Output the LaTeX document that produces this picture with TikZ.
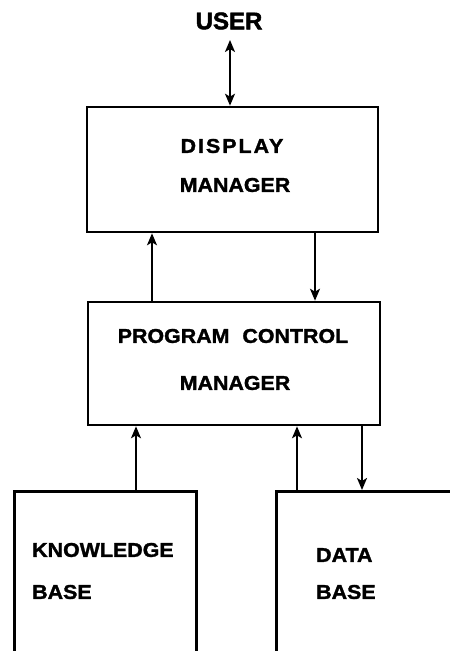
\documentclass[tikz,border=0pt]{standalone}
\usepackage{fontspec}
\setmainfont{Liberation Sans}[BoldFont={Liberation Sans Bold}]
\newfontfamily\boxfont{Liberation Sans Bold}[FakeStretch=1.07, FakeBold=1.5]
\newfontfamily\widefont{Liberation Sans Bold}[FakeStretch=1.07, FakeBold=1.5, LetterSpace=10]
\newfontfamily\userfont{Liberation Sans Bold}[FakeBold=2]
\usetikzlibrary{arrows.meta}
\tikzset{
  block/.style={draw, line width=2.6pt, minimum width=#1, inner sep=0pt},
  lbl/.style={inner sep=0pt, font=\boxfont\fontsize{20}{20}\selectfont},
  tip/.tip={Stealth[length=12pt,width=10pt,inset=3pt]},
  arr/.style={line width=1.8pt, -tip},
  biarr/.style={line width=1.8pt, tip-tip}
}
\begin{document}
\begin{tikzpicture}[x=1pt,y=-1pt]
\useasboundingbox (0,0) rectangle (450,651);
\clip (0,0) rectangle (450,651);
% top-level boxes
\node[block=291pt, minimum height=125pt] (dm) at (232.5,169.5) {};
\node[block=292pt, minimum height=123pt] (pcm) at (234,363.5) {};
% lower boxes run past the lower edge
\node[block=182pt, minimum height=190pt, anchor=north west] (kb) at (13,490) {};
\node[block=205pt, minimum height=190pt, anchor=north west] (db) at (275,490) {};
% labels
\node[inner sep=0pt, font=\userfont\fontsize{24}{24}\selectfont] (user) at (229,21) {USER};
\node[lbl, font=\widefont\fontsize{20}{20}\selectfont] (dm1) at (232,146) {DISPLAY};
\node[lbl] (dm2) at (235,185) {MANAGER};
\node[lbl] (pcm1) at (233,336) {PROGRAM\hspace{7pt} CONTROL};
\node[lbl] (pcm2) at (235,383) {MANAGER};
\node[lbl, anchor=west] (kb1) at (32,550) {KNOWLEDGE};
\node[lbl, anchor=west] (kb2) at (32,592) {BASE};
\node[lbl, anchor=west] (db1) at (316,555) {DATA};
\node[lbl, anchor=west] (db2) at (316,592) {BASE};
% connectors
\coordinate (ut) at (230,40);
\draw[biarr] (ut) -- (230,0 |- dm.north);
\draw[arr] (152,0 |- pcm.north) -- (152,0 |- dm.south);
\draw[arr] (315,0 |- dm.south) -- (315,0 |- pcm.north);
\draw[arr] (136,0 |- kb.north) -- (136,0 |- pcm.south);
\draw[arr] (297,0 |- db.north) -- (297,0 |- pcm.south);
\draw[arr] (362,0 |- pcm.south) -- (362,0 |- db.north);
\end{tikzpicture}
\end{document}
